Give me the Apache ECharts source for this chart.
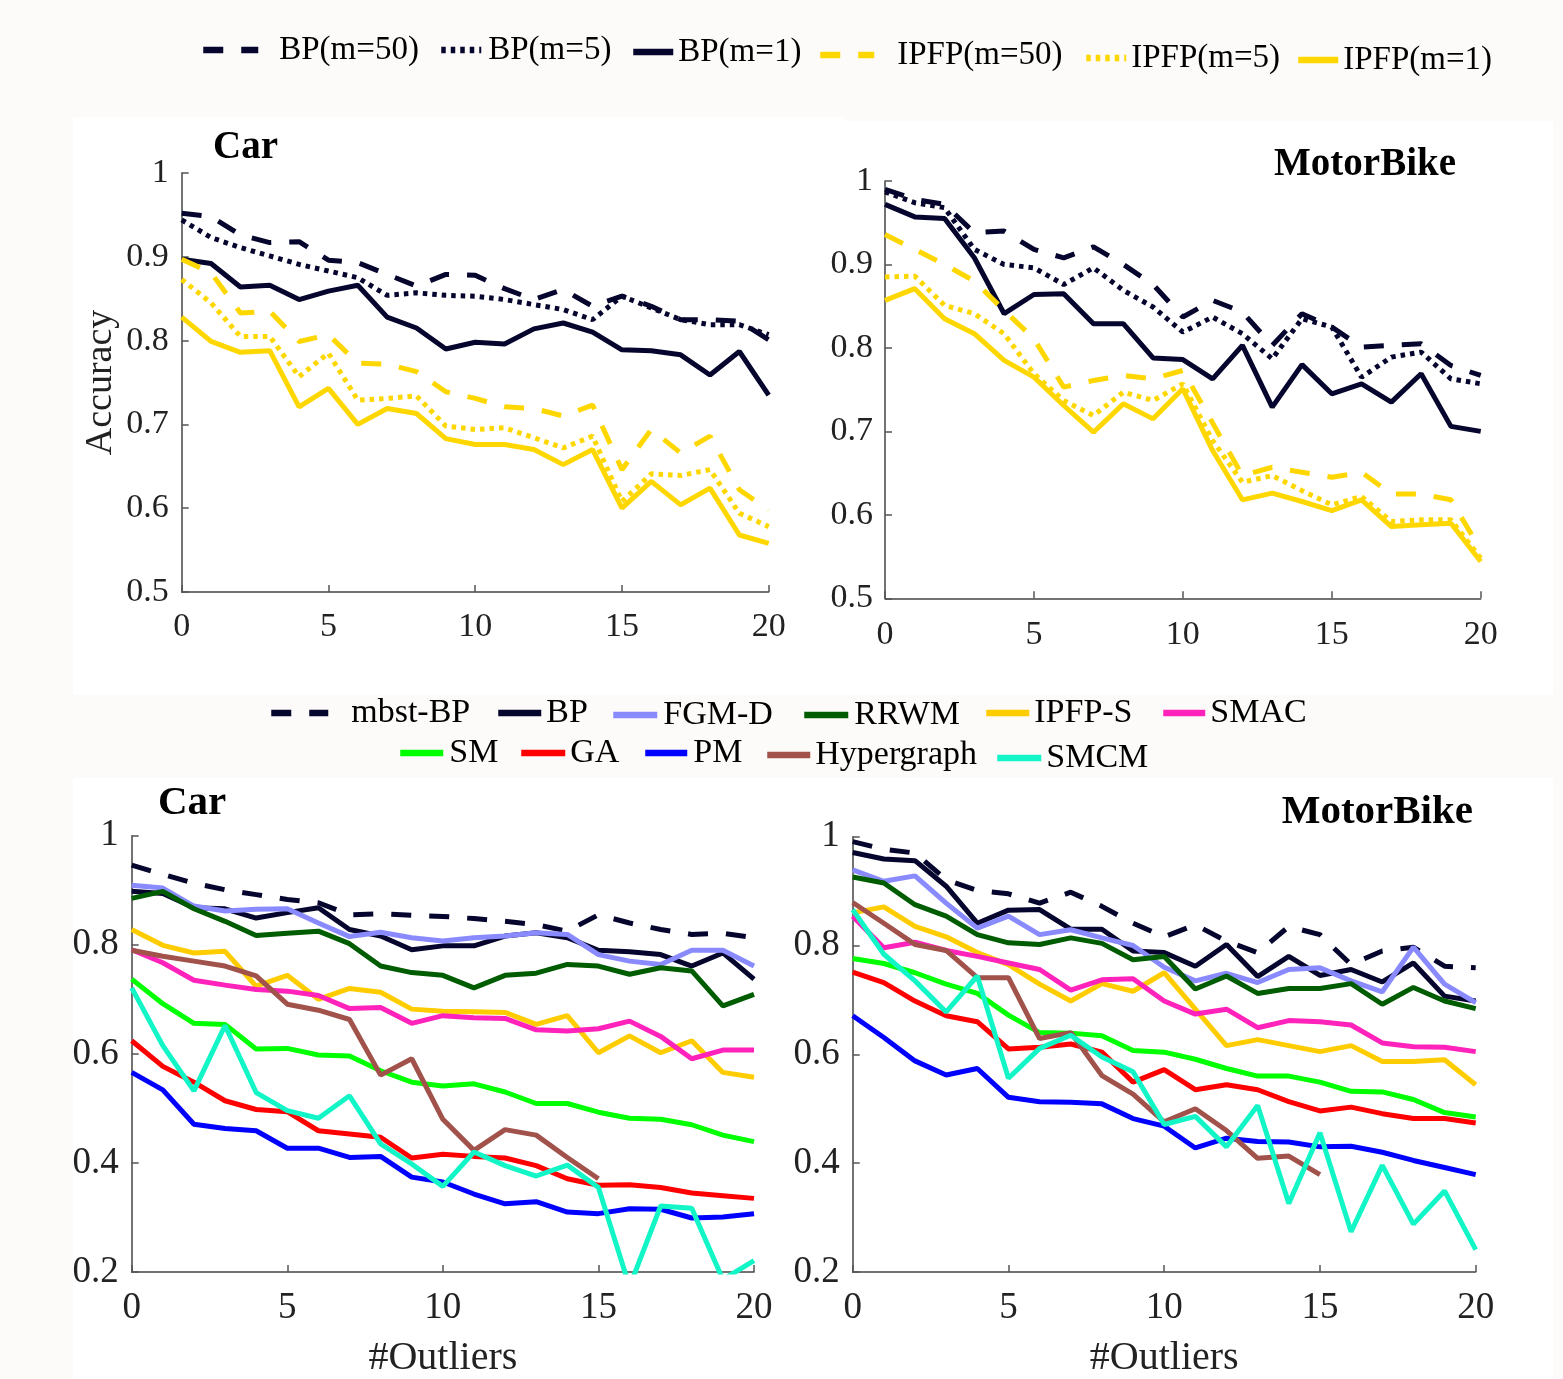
<!DOCTYPE html>
<html>
<head>
<meta charset="utf-8">
<script src="https://cdn.jsdelivr.net/npm/echarts@6/dist/echarts.min.js"></script>
<style>
html,body{margin:0;padding:0;background:#fcfbf9;}
.wb{position:absolute;background:#ffffff;}
#chart{position:absolute;left:0;top:0;width:1563px;height:1379px;}
</style>
</head>
<body>
<div class="wb" style="left:73px;top:117px;width:772px;height:578px;"></div>
<div class="wb" style="left:845px;top:121px;width:708px;height:574px;"></div>
<div class="wb" style="left:73px;top:778px;width:1480px;height:601px;"></div>
<div id="chart"></div>
<script>
// ---------- data ----------
const outliers = [0,1,2,3,4,5,6,7,8,9,10,11,12,13,14,15,16,17,18,19,20];
const xTicks = [0,5,10,15,20];

// Top-left: Car
const carBP50  = [0.952,0.948,0.926,0.917,0.918,0.896,0.893,0.879,0.865,0.879,0.878,0.862,0.849,0.861,0.841,0.853,0.841,0.825,0.825,0.823,0.801];
const carBP5   = [0.944,0.923,0.911,0.901,0.891,0.883,0.875,0.854,0.857,0.854,0.853,0.849,0.843,0.837,0.825,0.853,0.839,0.825,0.819,0.819,0.807];
const carBP1   = [0.897,0.892,0.864,0.866,0.849,0.859,0.866,0.828,0.815,0.790,0.798,0.796,0.814,0.821,0.810,0.789,0.788,0.783,0.759,0.787,0.735];
const carIP50  = [0.897,0.881,0.833,0.835,0.799,0.807,0.773,0.772,0.763,0.739,0.731,0.721,0.719,0.710,0.723,0.646,0.694,0.666,0.686,0.622,0.598];
const carIP5   = [0.873,0.845,0.805,0.805,0.757,0.785,0.729,0.731,0.734,0.698,0.694,0.696,0.684,0.672,0.686,0.608,0.641,0.639,0.646,0.594,0.578];
const carIP1   = [0.828,0.799,0.786,0.788,0.721,0.743,0.700,0.719,0.713,0.683,0.676,0.676,0.670,0.652,0.670,0.600,0.632,0.604,0.624,0.568,0.558];

// Top-right: MotorBike
const mbBP50 = [0.990,0.978,0.972,0.938,0.940,0.918,0.908,0.921,0.900,0.876,0.837,0.857,0.843,0.803,0.841,0.825,0.801,0.803,0.805,0.779,0.767];
const mbBP5  = [0.987,0.974,0.968,0.918,0.900,0.896,0.876,0.896,0.869,0.849,0.819,0.837,0.817,0.787,0.835,0.825,0.765,0.789,0.795,0.763,0.757];
const mbBP1  = [0.972,0.957,0.955,0.908,0.841,0.864,0.865,0.829,0.829,0.788,0.786,0.763,0.803,0.729,0.780,0.745,0.757,0.735,0.769,0.706,0.700];
const mbIP50 = [0.936,0.918,0.900,0.880,0.845,0.811,0.753,0.761,0.767,0.763,0.773,0.710,0.647,0.657,0.651,0.645,0.651,0.625,0.625,0.618,0.558];
const mbIP5  = [0.885,0.886,0.851,0.841,0.817,0.769,0.737,0.719,0.747,0.737,0.757,0.689,0.639,0.647,0.629,0.612,0.622,0.592,0.594,0.594,0.548];
const mbIP1  = [0.857,0.871,0.835,0.817,0.785,0.765,0.731,0.699,0.733,0.715,0.751,0.677,0.618,0.626,0.616,0.605,0.618,0.586,0.588,0.590,0.544];

// Bottom-left: Car
const cMbst  = [0.946,0.929,0.913,0.901,0.892,0.883,0.877,0.855,0.857,0.854,0.852,0.848,0.843,0.837,0.825,0.855,0.840,0.828,0.819,0.821,0.813];
const cBP    = [0.898,0.894,0.868,0.866,0.849,0.859,0.868,0.828,0.816,0.791,0.798,0.798,0.816,0.822,0.813,0.790,0.787,0.782,0.761,0.785,0.737];
const cFGM   = [0.909,0.904,0.871,0.862,0.865,0.866,0.840,0.815,0.823,0.813,0.807,0.813,0.816,0.822,0.819,0.782,0.770,0.764,0.790,0.790,0.761];
const cRRWM  = [0.885,0.898,0.866,0.843,0.817,0.821,0.825,0.802,0.761,0.749,0.744,0.721,0.744,0.748,0.764,0.761,0.746,0.758,0.752,0.688,0.709];
const cIPFPS = [0.828,0.799,0.785,0.788,0.724,0.744,0.700,0.720,0.713,0.682,0.678,0.677,0.676,0.654,0.670,0.602,0.633,0.602,0.624,0.566,0.557];
const cSMAC  = [0.791,0.767,0.735,0.726,0.718,0.715,0.707,0.683,0.685,0.656,0.670,0.666,0.665,0.644,0.642,0.646,0.660,0.632,0.591,0.607,0.607];
const cSM    = [0.737,0.692,0.656,0.654,0.609,0.610,0.598,0.596,0.569,0.548,0.541,0.545,0.530,0.509,0.509,0.493,0.482,0.480,0.470,0.451,0.439];
const cGA    = [0.624,0.577,0.548,0.514,0.498,0.494,0.459,0.453,0.447,0.409,0.416,0.412,0.409,0.395,0.371,0.359,0.360,0.355,0.345,0.340,0.335];
const cPM    = [0.566,0.534,0.471,0.463,0.459,0.427,0.427,0.410,0.412,0.374,0.365,0.343,0.325,0.329,0.310,0.307,0.316,0.315,0.299,0.301,0.307];
const cHyper = [0.790,0.779,0.770,0.761,0.743,0.691,0.680,0.663,0.561,0.591,0.480,0.423,0.461,0.451,0.410,0.371];
const cSMCM  = [0.721,0.615,0.532,0.652,0.529,0.496,0.482,0.523,0.435,0.398,0.357,0.420,0.395,0.376,0.396,0.355,0.173,0.321,0.317,0.186,0.221];

// Bottom-right: MotorBike
const mMbst  = [0.991,0.977,0.970,0.921,0.901,0.895,0.878,0.898,0.872,0.841,0.816,0.838,0.808,0.787,0.835,0.820,0.765,0.790,0.797,0.762,0.759];
const mBP    = [0.971,0.959,0.956,0.909,0.841,0.865,0.866,0.830,0.830,0.790,0.787,0.762,0.802,0.743,0.780,0.745,0.756,0.733,0.768,0.707,0.698];
const mFGM   = [0.939,0.918,0.928,0.878,0.832,0.854,0.820,0.829,0.814,0.800,0.760,0.735,0.749,0.732,0.756,0.759,0.735,0.715,0.797,0.729,0.695];
const mRRWM  = [0.926,0.915,0.875,0.854,0.820,0.805,0.802,0.814,0.804,0.774,0.780,0.720,0.744,0.712,0.721,0.721,0.730,0.692,0.723,0.698,0.684];
const mIPFPS = [0.860,0.871,0.835,0.816,0.787,0.765,0.729,0.698,0.730,0.716,0.750,0.683,0.616,0.627,0.616,0.605,0.616,0.587,0.587,0.590,0.544];
const mSMAC  = [0.854,0.796,0.806,0.791,0.780,0.768,0.756,0.718,0.737,0.739,0.698,0.674,0.683,0.649,0.662,0.660,0.654,0.621,0.614,0.613,0.605];
const mSM    = [0.776,0.767,0.750,0.729,0.712,0.672,0.640,0.639,0.634,0.607,0.604,0.591,0.574,0.560,0.560,0.549,0.532,0.531,0.517,0.493,0.485];
const mGA    = [0.751,0.732,0.698,0.671,0.660,0.610,0.613,0.619,0.604,0.549,0.572,0.535,0.544,0.535,0.513,0.496,0.503,0.491,0.482,0.482,0.474];
const mPM    = [0.671,0.631,0.588,0.562,0.574,0.521,0.513,0.512,0.509,0.482,0.468,0.428,0.446,0.440,0.439,0.430,0.431,0.420,0.405,0.392,0.379];
const mHyper = [0.879,0.841,0.802,0.791,0.741,0.741,0.629,0.640,0.561,0.527,0.476,0.500,0.460,0.409,0.413,0.379];
const mSMCM  = [0.866,0.784,0.735,0.678,0.744,0.556,0.611,0.635,0.595,0.568,0.471,0.486,0.430,0.506,0.326,0.456,0.274,0.396,0.288,0.349,0.241];

// ---------- style ----------
const FONT = 'Liberation Serif';
const NAVY = '#05052e', GOLD = '#ffd700';
const DASH = [20, 18], DOT = [4.5, 5];
const C = {
  fgm:'#8a8aff', rrwm:'#005c00', ipfps:'#ffcc00', smac:'#ff22bb',
  sm:'#00ff00', ga:'#ff0000', pm:'#0000ff', hyper:'#a0524b', smcm:'#12f5c6'
};

function line(name, vals, idx, color, type, w) {
  return {
    type:'line', name, xAxisIndex:idx, yAxisIndex:idx,
    data: vals.map((v,i)=>[outliers[i], v]),
    symbol:'none', clip:true,
    lineStyle:{color, width:w||5, type:type||'solid'},
    itemStyle:{color}
  };
}

function xAx(gi, fs, margin, name) {
  return {
    type:'value', gridIndex:gi, min:0, max:20, interval:5,
    axisLine:{lineStyle:{color:'#444', width:1.5}},
    axisTick:{inside:true, length:7, lineStyle:{color:'#555', width:1.5}},
    axisLabel:{fontFamily:FONT, fontSize:fs, color:'#222', margin},
    splitLine:{show:false},
    name: name||'', nameLocation:'middle', nameGap:66,
    nameTextStyle:{fontFamily:FONT, fontSize:40, color:'#222'}
  };
}
function yAx(gi, min, interval, fs, margin, name) {
  return {
    type:'value', gridIndex:gi, min, max:1, interval,
    axisLine:{show:true, lineStyle:{color:'#444', width:1.5}},
    axisTick:{show:true, inside:true, length:7, lineStyle:{color:'#555', width:1.5}},
    axisLabel:{fontFamily:FONT, fontSize:fs, color:'#222', margin},
    splitLine:{show:false},
    name: name||'', nameLocation:'middle', nameGap:62, nameRotate:90,
    nameTextStyle:{fontFamily:FONT, fontSize:38, color:'#222'}
  };
}

function leg(name, left, cy, w, pad, fs) {
  fs = fs || 33;
  return {
    data:[name], left, top: cy - fs/2, padding:0,
    itemWidth:w, itemHeight:14,
    lineStyle:{width:6.5},
    itemStyle:{opacity:0, borderWidth:0},
    textStyle:{fontFamily:FONT, fontSize:fs, color:'#000', padding:[0,0,0,pad||0]},
    selectedMode:false
  };
}

const option = {
  animation:false,
  backgroundColor:'transparent',
  title:[
    {text:'Car', left:213, top:128, padding:0, textStyle:{fontFamily:FONT, fontSize:39, fontWeight:'bold', color:'#000'}},
    {text:'MotorBike', right:107, top:145, padding:0, textStyle:{fontFamily:FONT, fontSize:39, fontWeight:'bold', color:'#000'}},
    {text:'Car', left:158, top:783, padding:0, textStyle:{fontFamily:FONT, fontSize:41, fontWeight:'bold', color:'#000'}},
    {text:'MotorBike', right:90, top:792, padding:0, textStyle:{fontFamily:FONT, fontSize:41, fontWeight:'bold', color:'#000'}}
  ],
  legend:[
    leg('BP(m=50)', 200, 50, 55, 16),
    leg('BP(m=5)', 438, 50, 40, 2),
    leg('BP(m=1)', 630, 52, 40, 0),
    leg('IPFP(m=50)', 817, 55, 54, 18),
    leg('IPFP(m=5)', 1083, 58, 40, 0),
    leg('IPFP(m=1)', 1295, 60, 40, 0),
    leg('mbst-BP', 268, 713, 57, 18, 34),
    leg('BP', 495, 713, 43, 0, 34),
    leg('FGM-D', 610, 715, 44, 1, 34),
    leg('RRWM', 801, 715, 44, 1, 34),
    leg('IPFP-S', 983, 713, 43, 0, 34),
    leg('SMAC', 1160, 713, 42, 0, 34),
    leg('SM', 397, 753, 43, 1, 34),
    leg('GA', 518, 753, 44, 0, 34),
    leg('PM', 642, 753, 42, 1, 34),
    leg('Hypergraph', 764, 755, 43, 0, 34),
    leg('SMCM', 994, 758, 44, 0, 34)
  ],
  grid:[
    {left:181.7, top:173, width:587, height:419},
    {left:885, top:181, width:595.7, height:417.3},
    {left:131.7, top:835.7, width:622.3, height:437.6},
    {left:852.7, top:836.7, width:623, height:437.3}
  ],
  xAxis:[
    xAx(0,34,18),
    xAx(1,34,20),
    xAx(2,37,18,'#Outliers'),
    xAx(3,37,18,'#Outliers')
  ],
  yAxis:[
    yAx(0,0.5,0.1,34,13,'Accuracy'),
    yAx(1,0.5,0.1,34,12),
    yAx(2,0.2,0.2,37,13),
    yAx(3,0.2,0.2,37,13)
  ],
  series:[
    line('BP(m=50)', carBP50, 0, NAVY, DASH),
    line('BP(m=5)',  carBP5,  0, NAVY, DOT),
    line('BP(m=1)',  carBP1,  0, NAVY),
    line('IPFP(m=50)', carIP50, 0, GOLD, DASH),
    line('IPFP(m=5)',  carIP5,  0, GOLD, DOT),
    line('IPFP(m=1)',  carIP1,  0, GOLD),

    line('BP(m=50)', mbBP50, 1, NAVY, DASH),
    line('BP(m=5)',  mbBP5,  1, NAVY, DOT),
    line('BP(m=1)',  mbBP1,  1, NAVY),
    line('IPFP(m=50)', mbIP50, 1, GOLD, DASH),
    line('IPFP(m=5)',  mbIP5,  1, GOLD, DOT),
    line('IPFP(m=1)',  mbIP1,  1, GOLD),

    line('mbst-BP', cMbst, 2, NAVY, DASH),
    line('BP', cBP, 2, NAVY),
    line('FGM-D', cFGM, 2, C.fgm),
    line('RRWM', cRRWM, 2, C.rrwm),
    line('IPFP-S', cIPFPS, 2, C.ipfps),
    line('SMAC', cSMAC, 2, C.smac),
    line('SM', cSM, 2, C.sm),
    line('GA', cGA, 2, C.ga),
    line('PM', cPM, 2, C.pm),
    line('Hypergraph', cHyper, 2, C.hyper),
    line('SMCM', cSMCM, 2, C.smcm),

    line('mbst-BP', mMbst, 3, NAVY, DASH),
    line('BP', mBP, 3, NAVY),
    line('FGM-D', mFGM, 3, C.fgm),
    line('RRWM', mRRWM, 3, C.rrwm),
    line('IPFP-S', mIPFPS, 3, C.ipfps),
    line('SMAC', mSMAC, 3, C.smac),
    line('SM', mSM, 3, C.sm),
    line('GA', mGA, 3, C.ga),
    line('PM', mPM, 3, C.pm),
    line('Hypergraph', mHyper, 3, C.hyper),
    line('SMCM', mSMCM, 3, C.smcm)
  ]
};

const chart = echarts.init(document.getElementById('chart'), null, {renderer:'canvas'});
chart.setOption(option);
</script>
</body>
</html>
